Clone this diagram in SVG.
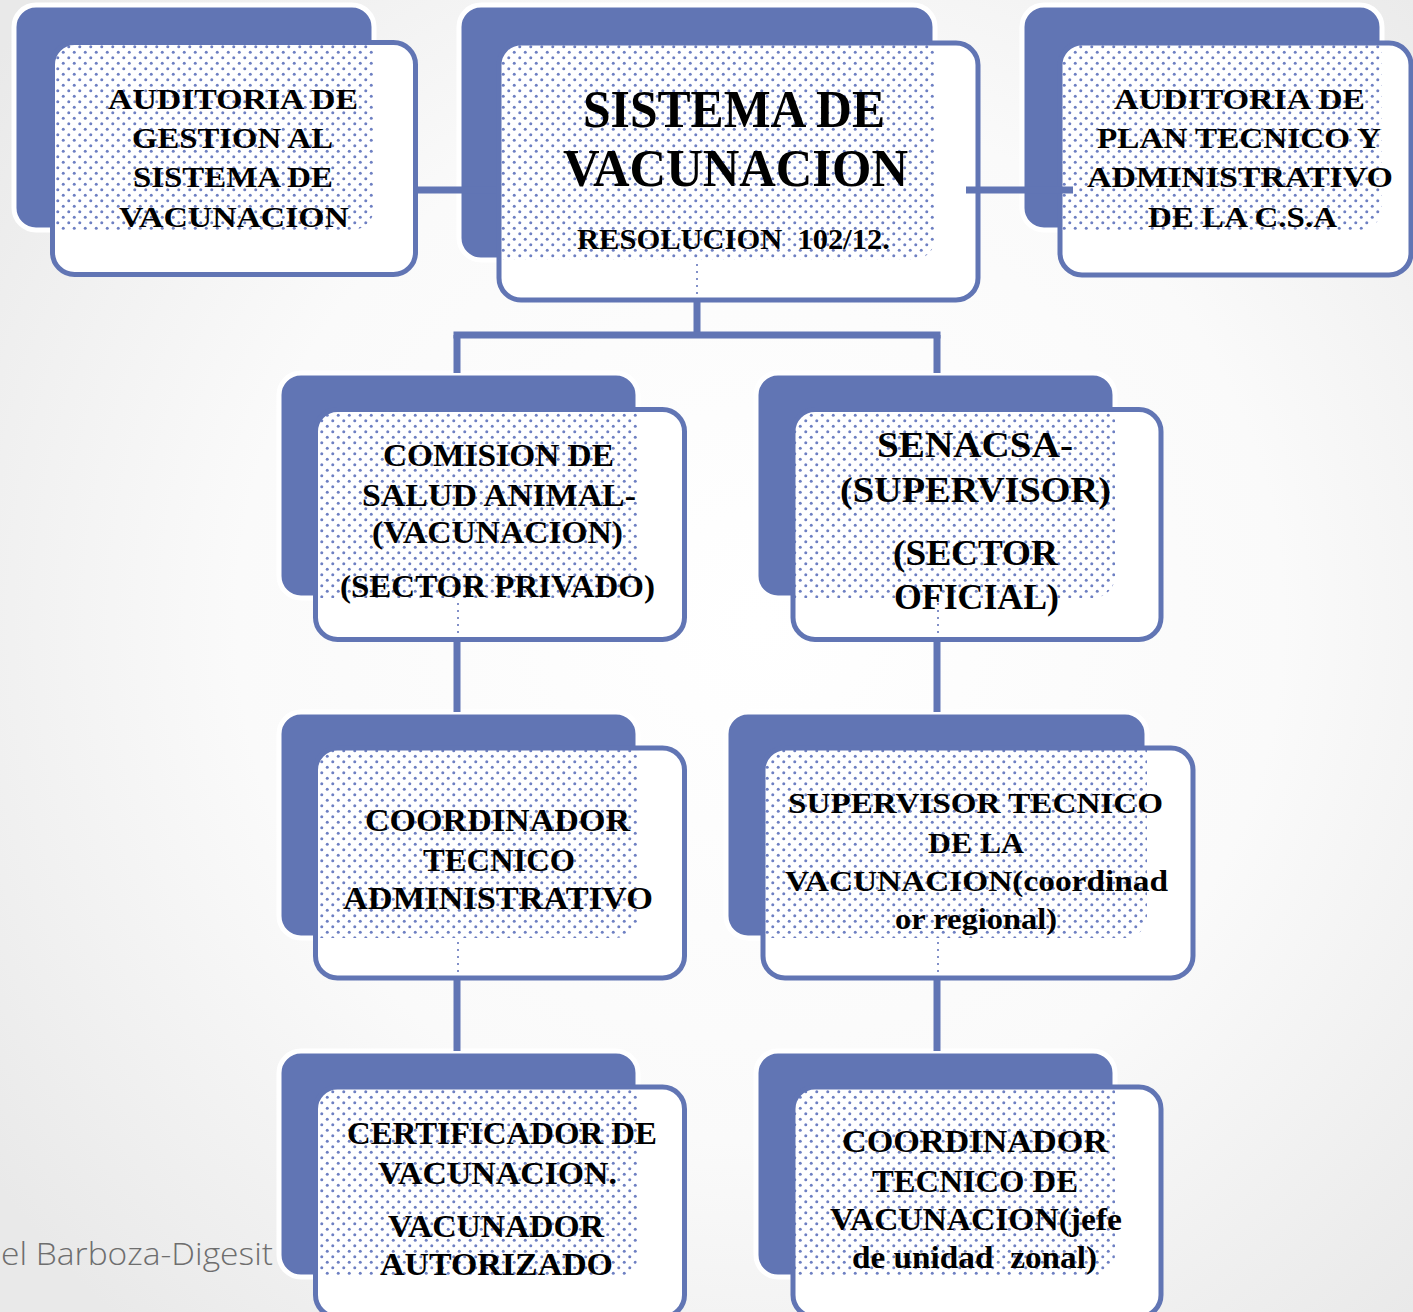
<svg xmlns="http://www.w3.org/2000/svg" width="1413" height="1312" viewBox="0 0 1413 1312">
<style>
.back{fill:#6175b4;stroke:#ffffff;stroke-width:5}
.front{fill:#ffffff}
.frame{fill:none;stroke:#6175b4;stroke-width:5}
.dots{fill:url(#dots)}
.t{font-family:"Liberation Serif","Times New Roman",serif;font-weight:bold;fill:#000000;white-space:pre}
.conn{stroke:#6175b4;stroke-width:7;fill:none}
.thin{stroke:#8290c8;stroke-width:2;stroke-dasharray:2 5;fill:none}
.foot{font-family:"Open Sans","Liberation Sans",sans-serif;font-weight:300;fill:#6e6e6e}
</style>
<defs>
<radialGradient id="bg" cx="760" cy="620" r="950" gradientUnits="userSpaceOnUse">
<stop offset="0" stop-color="#ffffff"/>
<stop offset="0.55" stop-color="#fafafa"/>
<stop offset="1" stop-color="#e9e9e9"/>
</radialGradient>
<pattern id="dots" width="11" height="11" patternUnits="userSpaceOnUse">
<circle cx="2.75" cy="2.75" r="1.5" fill="#6d7fc2"/>
<circle cx="8.25" cy="8.25" r="1.5" fill="#6d7fc2"/>
</pattern>
<clipPath id="cA"><rect x="52.5" y="42.5" width="363" height="232" rx="22"/></clipPath>
<clipPath id="cB"><rect x="499" y="43" width="479" height="257" rx="22"/></clipPath>
<clipPath id="cC"><rect x="1060" y="43" width="351" height="232" rx="22"/></clipPath>
<clipPath id="cD"><rect x="315.5" y="409.5" width="369" height="230" rx="22"/></clipPath>
<clipPath id="cE"><rect x="793" y="409.5" width="368" height="230" rx="22"/></clipPath>
<clipPath id="cF"><rect x="315.5" y="748" width="369" height="230" rx="22"/></clipPath>
<clipPath id="cG"><rect x="763" y="748" width="430" height="230" rx="22"/></clipPath>
<clipPath id="cH"><rect x="315.5" y="1087" width="369" height="230" rx="22"/></clipPath>
<clipPath id="cI"><rect x="793" y="1087" width="368" height="230" rx="22"/></clipPath>
</defs>
<rect x="0" y="0" width="1413" height="1312" fill="url(#bg)"/>
<text class="foot" x="1" y="1265" font-size="31" textLength="272" lengthAdjust="spacingAndGlyphs">el Barboza-Digesit</text>

<g id="node-auditoria-gestion">
<rect class="back" x="14" y="5" width="360" height="225" rx="22"/>
<rect class="front" x="52.5" y="42.5" width="363" height="232" rx="22"/>
<rect class="dots" x="14" y="5" width="360" height="225" rx="22" clip-path="url(#cA)"/>
<rect class="frame" x="52.5" y="42.5" width="363" height="232" rx="22"/>
<text class="t" font-size="30" x="108" y="109" textLength="250" lengthAdjust="spacingAndGlyphs">AUDITORIA DE</text>
<text class="t" font-size="30" x="132" y="148" textLength="201" lengthAdjust="spacingAndGlyphs">GESTION AL</text>
<text class="t" font-size="30" x="133" y="187" textLength="200" lengthAdjust="spacingAndGlyphs">SISTEMA DE</text>
<text class="t" font-size="30" x="119" y="227" textLength="230" lengthAdjust="spacingAndGlyphs">VACUNACION</text>
</g>

<g id="node-sistema">
<rect class="back" x="459" y="5" width="476" height="255" rx="22"/>
<rect class="front" x="499" y="43" width="479" height="257" rx="22"/>
<rect class="dots" x="459" y="5" width="476" height="255" rx="22" clip-path="url(#cB)"/>
<rect class="frame" x="499" y="43" width="479" height="257" rx="22"/>
<text class="t" font-size="53" x="583" y="127" textLength="302" lengthAdjust="spacingAndGlyphs">SISTEMA DE</text>
<text class="t" font-size="53" x="563" y="186" textLength="345" lengthAdjust="spacingAndGlyphs">VACUNACION</text>
<text class="t" font-size="29" x="577" y="249" textLength="313" lengthAdjust="spacingAndGlyphs">RESOLUCION  102/12.</text>
</g>

<g id="node-auditoria-plan">
<rect class="back" x="1022" y="5" width="360" height="225" rx="22"/>
<rect class="front" x="1060" y="43" width="351" height="232" rx="22"/>
<rect class="dots" x="1022" y="5" width="360" height="225" rx="22" clip-path="url(#cC)"/>
<rect class="frame" x="1060" y="43" width="351" height="232" rx="22"/>
<text class="t" font-size="30" x="1114" y="109" textLength="251" lengthAdjust="spacingAndGlyphs">AUDITORIA DE</text>
<text class="t" font-size="30" x="1097" y="148" textLength="284" lengthAdjust="spacingAndGlyphs">PLAN TECNICO Y</text>
<text class="t" font-size="30" x="1087" y="187" textLength="306" lengthAdjust="spacingAndGlyphs">ADMINISTRATIVO</text>
<text class="t" font-size="30" x="1148" y="227" textLength="189" lengthAdjust="spacingAndGlyphs">DE LA C.S.A</text>
</g>

<g id="node-comision">
<rect class="back" x="279" y="373" width="359" height="225" rx="22"/>
<rect class="front" x="315.5" y="409.5" width="369" height="230" rx="22"/>
<rect class="dots" x="279" y="373" width="359" height="225" rx="22" clip-path="url(#cD)"/>
<rect class="frame" x="315.5" y="409.5" width="369" height="230" rx="22"/>
<text class="t" font-size="32" x="383" y="466" textLength="231" lengthAdjust="spacingAndGlyphs">COMISION DE</text>
<text class="t" font-size="32" x="362" y="506" textLength="274" lengthAdjust="spacingAndGlyphs">SALUD ANIMAL-</text>
<text class="t" font-size="32" x="372" y="543" textLength="251" lengthAdjust="spacingAndGlyphs">(VACUNACION)</text>
<text class="t" font-size="32" x="340" y="597" textLength="315" lengthAdjust="spacingAndGlyphs">(SECTOR PRIVADO)</text>
</g>

<g id="node-senacsa">
<rect class="back" x="756" y="373" width="359" height="225" rx="22"/>
<rect class="front" x="793" y="409.5" width="368" height="230" rx="22"/>
<rect class="dots" x="756" y="373" width="359" height="225" rx="22" clip-path="url(#cE)"/>
<rect class="frame" x="793" y="409.5" width="368" height="230" rx="22"/>
<text class="t" font-size="36" x="877" y="457" textLength="196" lengthAdjust="spacingAndGlyphs">SENACSA-</text>
<text class="t" font-size="36" x="840" y="502" textLength="271" lengthAdjust="spacingAndGlyphs">(SUPERVISOR)</text>
<text class="t" font-size="36" x="893" y="565" textLength="165" lengthAdjust="spacingAndGlyphs">(SECTOR</text>
<text class="t" font-size="36" x="894" y="609" textLength="165" lengthAdjust="spacingAndGlyphs">OFICIAL)</text>
</g>

<g id="node-coordinador-admin">
<rect class="back" x="279" y="712" width="359" height="226" rx="22"/>
<rect class="front" x="315.5" y="748" width="369" height="230" rx="22"/>
<rect class="dots" x="279" y="712" width="359" height="226" rx="22" clip-path="url(#cF)"/>
<rect class="frame" x="315.5" y="748" width="369" height="230" rx="22"/>
<text class="t" font-size="31" x="365" y="831" textLength="265" lengthAdjust="spacingAndGlyphs">COORDINADOR</text>
<text class="t" font-size="31" x="423" y="871" textLength="152" lengthAdjust="spacingAndGlyphs">TECNICO</text>
<text class="t" font-size="31" x="343" y="909" textLength="310" lengthAdjust="spacingAndGlyphs">ADMINISTRATIVO</text>
</g>

<g id="node-supervisor-tecnico">
<rect class="back" x="726" y="712" width="421" height="226" rx="22"/>
<rect class="front" x="763" y="748" width="430" height="230" rx="22"/>
<rect class="dots" x="726" y="712" width="421" height="226" rx="22" clip-path="url(#cG)"/>
<rect class="frame" x="763" y="748" width="430" height="230" rx="22"/>
<text class="t" font-size="30" x="788" y="813" textLength="375" lengthAdjust="spacingAndGlyphs">SUPERVISOR TECNICO</text>
<text class="t" font-size="30" x="928" y="853" textLength="96" lengthAdjust="spacingAndGlyphs">DE LA</text>
<text class="t" font-size="30" x="785" y="891" textLength="383" lengthAdjust="spacingAndGlyphs">VACUNACION(coordinad</text>
<text class="t" font-size="30" x="895" y="929" textLength="162" lengthAdjust="spacingAndGlyphs">or regional)</text>
</g>

<g id="node-certificador">
<rect class="back" x="279" y="1051" width="359" height="226" rx="22"/>
<rect class="front" x="315.5" y="1087" width="369" height="230" rx="22"/>
<rect class="dots" x="279" y="1051" width="359" height="226" rx="22" clip-path="url(#cH)"/>
<rect class="frame" x="315.5" y="1087" width="369" height="230" rx="22"/>
<text class="t" font-size="31" x="347" y="1144" textLength="310" lengthAdjust="spacingAndGlyphs">CERTIFICADOR DE</text>
<text class="t" font-size="31" x="378" y="1184" textLength="239" lengthAdjust="spacingAndGlyphs">VACUNACION.</text>
<text class="t" font-size="31" x="388" y="1237" textLength="216" lengthAdjust="spacingAndGlyphs">VACUNADOR</text>
<text class="t" font-size="31" x="380" y="1275" textLength="233" lengthAdjust="spacingAndGlyphs">AUTORIZADO</text>
</g>

<g id="node-coordinador-vacunacion">
<rect class="back" x="756" y="1051" width="359" height="226" rx="22"/>
<rect class="front" x="793" y="1087" width="368" height="230" rx="22"/>
<rect class="dots" x="756" y="1051" width="359" height="226" rx="22" clip-path="url(#cI)"/>
<rect class="frame" x="793" y="1087" width="368" height="230" rx="22"/>
<text class="t" font-size="31" x="842" y="1152" textLength="266" lengthAdjust="spacingAndGlyphs">COORDINADOR</text>
<text class="t" font-size="31" x="872" y="1192" textLength="206" lengthAdjust="spacingAndGlyphs">TECNICO DE</text>
<text class="t" font-size="31" x="830" y="1230" textLength="292" lengthAdjust="spacingAndGlyphs">VACUNACION(jefe</text>
<text class="t" font-size="31" x="852" y="1268" textLength="245" lengthAdjust="spacingAndGlyphs">de unidad  zonal)</text>
</g>

<g id="connectors">
<line class="conn" x1="417" y1="190" x2="496" y2="190" stroke-width="8"/>
<line class="conn" x1="966" y1="190" x2="1073" y2="190" stroke-width="8"/>
<line class="conn" x1="697" y1="300" x2="697" y2="335"/>
<line class="conn" x1="453.5" y1="335" x2="940.5" y2="335"/>
<line class="conn" x1="457" y1="335" x2="457" y2="373"/>
<line class="conn" x1="937" y1="335" x2="937" y2="373"/>
<line class="conn" x1="457" y1="640" x2="457" y2="712"/>
<line class="conn" x1="937" y1="640" x2="937" y2="712"/>
<line class="conn" x1="457" y1="978" x2="457" y2="1051"/>
<line class="conn" x1="937" y1="978" x2="937" y2="1051"/>
<line class="thin" x1="697" y1="264" x2="697" y2="298"/>
<line class="thin" x1="458" y1="603" x2="458" y2="637"/>
<line class="thin" x1="938" y1="603" x2="938" y2="637"/>
<line class="thin" x1="458" y1="942" x2="458" y2="976"/>
<line class="thin" x1="938" y1="942" x2="938" y2="976"/>
</g>
</svg>
